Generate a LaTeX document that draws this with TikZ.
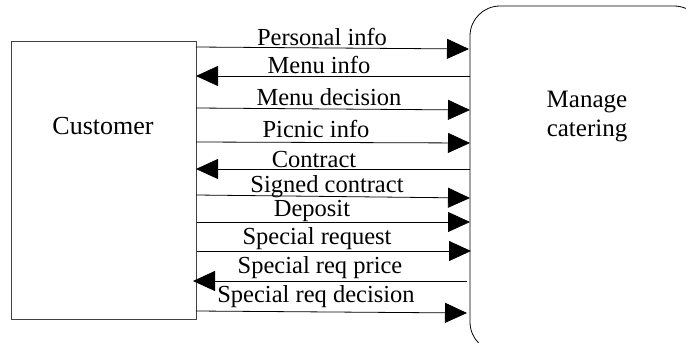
\documentclass[tikz,border=0pt]{standalone}
\usepackage{fontspec}
\setmainfont{Liberation Serif}
\usetikzlibrary{arrows.meta}
\tikzset{
  boxline/.style={draw=black!75, line width=0.9pt},
  flow/.style={draw=black, line width=0.8pt, -{Triangle[length=22pt,width=20pt]}},
  lbl/.style={anchor=base, inner sep=0pt, font=\fontsize{24.5}{26}\selectfont},
}
\begin{document}
\begin{tikzpicture}[x=1pt,y=-1pt]
\useasboundingbox (0,0) rectangle (686,343);
% boxes
\draw[boxline] (11,41) rectangle (196,319);
\node[inner sep=0pt, font=\fontsize{26}{28}\selectfont] (cust) at (103,126) {Customer};
\draw[draw=black, line width=0.8pt, rounded corners=30pt] (470,6) rectangle (704,352);
\node[align=center, inner sep=0pt, font=\fontsize{25}{29}\selectfont] (proc) at (587,117) {Manage\\catering};
% endpoints
\coordinate (a1) at (196,47);  \coordinate (b1) at (469,49);
\coordinate (a2) at (470,76);  \coordinate (b2) at (196,76);
\coordinate (a3) at (196,108); \coordinate (b3) at (470,110);
\coordinate (a4) at (196,142); \coordinate (b4) at (470,143);
\coordinate (a5) at (470,169); \coordinate (b5) at (196,169);
\coordinate (a6) at (196,195); \coordinate (b6) at (470,198);
\coordinate (a7) at (197,222); \coordinate (b7) at (470,222);
\coordinate (a8) at (197,251); \coordinate (b8) at (471,251);
\coordinate (a9) at (467,281); \coordinate (b9) at (193,281);
\coordinate (a10) at (196,311); \coordinate (b10) at (467,313);
\foreach \i in {1,...,10} \draw[flow] (a\i) -- (b\i);
% labels
\node[lbl] (l1) at (322,45) {Personal info};
\node[lbl] (l2) at (319,73) {Menu info};
\node[lbl] (l3) at (329,105) {Menu decision};
\node[lbl] (l4) at (316,137) {Picnic info};
\node[lbl] (l5) at (314,167) {Contract};
\node[lbl] (l6) at (327,192) {Signed contract};
\node[lbl] (l7) at (312,216) {Deposit};
\node[lbl] (l8) at (317,244) {Special request};
\node[lbl] (l9) at (320,273) {Special req price};
\node[lbl] (l10) at (316,302) {Special req decision};
\end{tikzpicture}
\end{document}
